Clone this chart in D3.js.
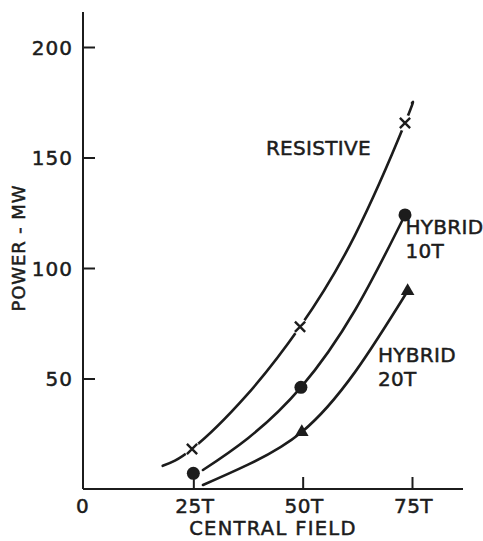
<!DOCTYPE html>
<html>
<head>
<meta charset="utf-8">
<script src="https://cdn.jsdelivr.net/npm/d3@7"></script>
<style>
  html, body { margin: 0; padding: 0; background: #fff; }
  text { font-family: "DejaVu Sans", sans-serif; fill: #1c1c1c; stroke: #1c1c1c; stroke-width: 0.5px; }
</style>
</head>
<body>
<svg id="chart" width="483" height="541"></svg>
<script>
// ---- data ----
const xTicks = [0, 25, 50, 75];
const xTickLabels = ["0", "25T", "50T", "75T"];
const yTicks = [50, 100, 150, 200];
const yTickLabels = ["50", "100", "150", "200"];

// measured points (markers)
const resistiveField = [24.7, 49.4, 73.4];
const resistivePower = [18.1, 73.4, 165.6];
const hybrid10Field = [25.0, 49.6, 73.4];
const hybrid10Power = [7.1, 46, 124];
const hybrid20Field = [49.8, 74.0];
const hybrid20Power = [25.8, 89.6];

// drawn curves
const resistiveCurveField = [18.0, 24.7, 37.0, 49.4, 62.0, 73.4, 75.0];
const resistiveCurvePower = [10.5, 18.1, 42, 73.4, 115, 165.6, 174.7];
const hybrid10CurveField = [27.2, 37.5, 49.6, 62.0, 73.4];
const hybrid10CurvePower = [8.6, 23, 46, 81, 124];
const hybrid20CurveField = [27.2, 37.5, 49.8, 62.0, 74.0];
const hybrid20CurvePower = [1.8, 11, 25.8, 53, 89.6];

const seriesLabels = [
  { lines: ["RESISTIVE"], field: 41.6, power: 151 },
  { lines: ["HYBRID", "10T"], field: 73.5, power: 115.5 },
  { lines: ["HYBRID", "20T"], field: 67.2, power: 57.5 }
];

// ---- chart ----
const ink = "#1c1c1c";
const svg = d3.select("#chart");
const x = d3.scaleLinear().domain([0, 75]).range([84, 412]);
const y = d3.scaleLinear().domain([0, 200]).range([489, 47]);

// axes lines
svg.append("line").attr("x1", x(0) - 1).attr("x2", 463).attr("y1", y(0)).attr("y2", y(0))
  .attr("stroke", ink).attr("stroke-width", 2);
svg.append("line").attr("x1", x(0) - 1).attr("x2", x(0) - 1).attr("y1", y(0)).attr("y2", 12)
  .attr("stroke", ink).attr("stroke-width", 2);

// y axis ticks
const yAxis = d3.axisLeft(y).tickValues(yTicks)
  .tickFormat((d, i) => yTickLabels[i]).tickSizeInner(-12).tickSizeOuter(0).tickPadding(10);
const gy = svg.append("g").attr("transform", `translate(${x(0) - 1},0)`).call(yAxis);
gy.select(".domain").remove();
gy.selectAll(".tick line").attr("stroke", ink).attr("stroke-width", 2);
gy.selectAll(".tick text").attr("font-size", 20).attr("letter-spacing", 1)
  .attr("font-family", "DejaVu Sans").attr("fill", ink).attr("dy", "0.36em");

// x axis ticks
const xAxis = d3.axisBottom(x).tickValues(xTicks)
  .tickFormat((d, i) => xTickLabels[i]).tickSizeInner(-12).tickSizeOuter(0);
const gx = svg.append("g").attr("transform", `translate(0,${y(0)})`).call(xAxis);
gx.select(".domain").remove();
gx.selectAll(".tick line").attr("stroke", ink).attr("stroke-width", 2)
  .attr("opacity", d => d === 0 ? 0 : 1);
gx.selectAll(".tick text").attr("font-size", 20).attr("letter-spacing", 0.5)
  .attr("font-family", "DejaVu Sans").attr("fill", ink).attr("y", 24).attr("dy", 0)
  .attr("dx", d => d === 0 ? -2 : 1);

// axis titles
svg.append("text").attr("x", 273).attr("y", 535).attr("text-anchor", "middle")
  .attr("font-size", 19.5).attr("letter-spacing", 1.3).text("CENTRAL FIELD");
svg.append("text").attr("transform", "translate(25,248) rotate(-90)").attr("text-anchor", "middle")
  .attr("font-size", 18).attr("letter-spacing", 0.9).text("POWER - MW");

// curves
const line = d3.line().x(d => x(d[0])).y(d => y(d[1])).curve(d3.curveNatural);
const curves = [
  d3.zip(resistiveCurveField, resistiveCurvePower),
  d3.zip(hybrid10CurveField, hybrid10CurvePower),
  d3.zip(hybrid20CurveField, hybrid20CurvePower)
];
svg.append("g").selectAll("path").data(curves).join("path")
  .attr("d", line).attr("fill", "none").attr("stroke", ink).attr("stroke-width", 2.6)
  .attr("stroke-linecap", "round");

// markers: resistive crosses (with white gap)
const resPts = d3.zip(resistiveField, resistivePower);
svg.append("g").selectAll("circle").data(resPts).join("circle")
  .attr("cx", d => x(d[0])).attr("cy", d => y(d[1])).attr("r", 8).attr("fill", "#fff");
const cross = d3.symbol().type(d3.symbolX).size(70);
svg.append("g").selectAll("path").data(resPts).join("path")
  .attr("d", cross).attr("transform", d => `translate(${x(d[0])},${y(d[1])})`)
  .attr("fill", "none").attr("stroke", ink).attr("stroke-width", 2.4);

// hybrid 10T dots
svg.append("g").selectAll("circle").data(d3.zip(hybrid10Field, hybrid10Power)).join("circle")
  .attr("cx", d => x(d[0])).attr("cy", d => y(d[1])).attr("r", 6.5).attr("fill", ink);

// hybrid 20T triangles
const tri = d3.symbol().type(d3.symbolTriangle).size(80);
svg.append("g").selectAll("path").data(d3.zip(hybrid20Field, hybrid20Power)).join("path")
  .attr("d", tri).attr("transform", d => `translate(${x(d[0])},${y(d[1])})`).attr("fill", ink);

// series labels
seriesLabels.forEach(l => {
  const t = svg.append("text").attr("x", x(l.field)).attr("y", y(l.power))
    .attr("font-size", 20).attr("letter-spacing", 0.3);
  l.lines.forEach((s, i) => {
    t.append("tspan").attr("x", x(l.field)).attr("dy", i === 0 ? 0 : 24).text(s);
  });
});
</script>
</body>
</html>
